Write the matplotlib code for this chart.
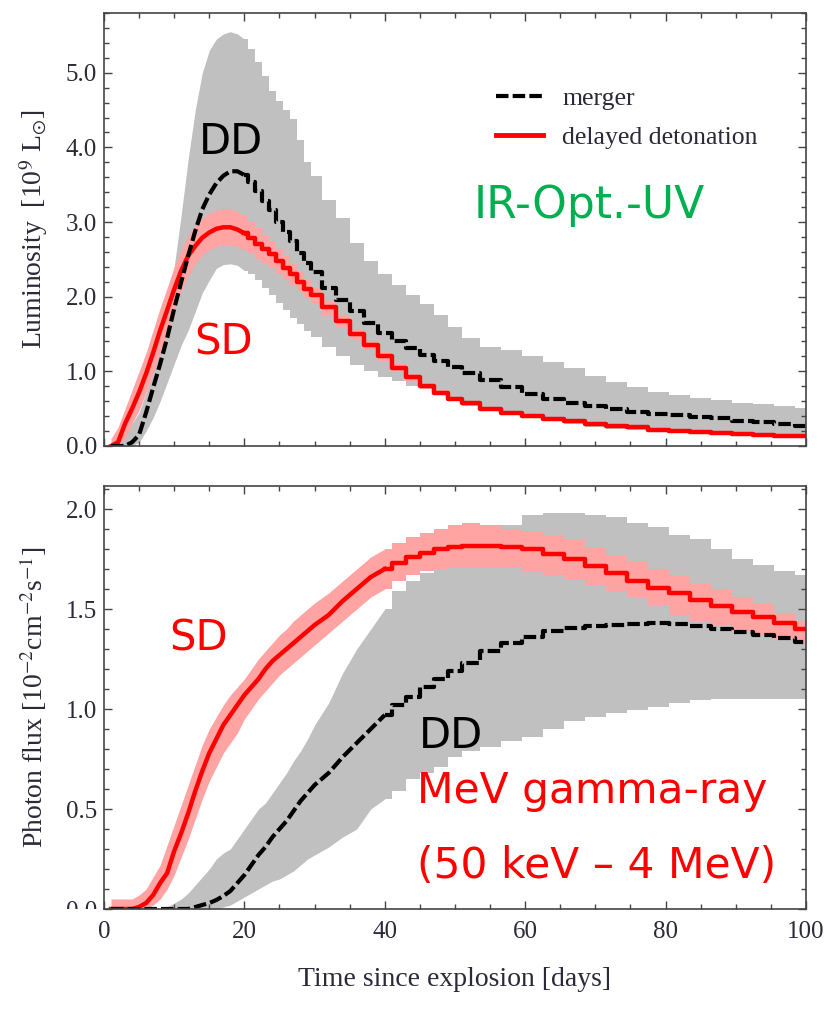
import matplotlib
matplotlib.use('Agg')
import matplotlib.pyplot as plt
from matplotlib.ticker import MultipleLocator
from matplotlib.transforms import Bbox, TransformedBbox
from matplotlib.lines import Line2D

# ---------------- data ----------------
TIME = [1, 2, 3, 4, 5, 6, 7, 8, 9, 10, 11, 12, 13, 14, 15, 16, 17, 18, 19, 20,
        21, 22, 23, 24, 25, 26, 27, 28, 29, 30,
        32, 34, 36, 38, 40, 42, 44, 46, 48, 50, 52,
        55, 58, 61, 64, 67, 70, 73, 76, 79, 82, 85, 88, 91, 94, 97, 100]

# Top panel: luminosity [1e9 Lsun]
LUM_MERGER = [0, 0, 0, 0.05, 0.15, 0.45, 0.78, 1.10, 1.45, 1.84, 2.20, 2.55, 2.88, 3.17, 3.37, 3.52, 3.62, 3.68, 3.68, 3.63,
              3.53, 3.41, 3.28, 3.16, 3.00, 2.87, 2.75, 2.58, 2.45, 2.33,
              2.12, 1.95, 1.81, 1.65, 1.52, 1.41, 1.31, 1.22, 1.14, 1.06, 0.98,
              0.89, 0.79, 0.70, 0.63, 0.57, 0.53, 0.49, 0.46, 0.43, 0.41, 0.39, 0.37, 0.34, 0.32, 0.30, 0.27]
LUM_DDT = [0, 0.05, 0.30, 0.50, 0.72, 0.97, 1.25, 1.55, 1.82, 2.10, 2.35, 2.55, 2.68, 2.79, 2.86, 2.91, 2.93, 2.93, 2.90, 2.85,
           2.79, 2.71, 2.64, 2.57, 2.48, 2.39, 2.30, 2.20, 2.10, 2.02,
           1.86, 1.68, 1.50, 1.35, 1.20, 1.05, 0.92, 0.81, 0.71, 0.63, 0.57,
           0.49, 0.44, 0.40, 0.36, 0.33, 0.30, 0.27, 0.25, 0.22, 0.20, 0.19, 0.17, 0.16, 0.15, 0.14, 0.13]
LUM_DDT_HI = [0.10, 0.25, 0.50, 0.75, 1.00, 1.25, 1.55, 1.85, 2.12, 2.40, 2.62, 2.82, 2.95, 3.05, 3.12, 3.16, 3.18, 3.18, 3.14, 3.08,
              3.00, 2.92, 2.83, 2.74, 2.64, 2.54, 2.44, 2.33, 2.22, 2.12,
              1.94, 1.75, 1.57, 1.41, 1.26, 1.10, 0.97, 0.85, 0.75, 0.66, 0.60,
              0.52, 0.47, 0.43, 0.39, 0.36, 0.32, 0.29, 0.27, 0.24, 0.22, 0.21, 0.19, 0.18, 0.17, 0.16, 0.15]
LUM_DDT_LO = [0, 0, 0.10, 0.30, 0.48, 0.72, 0.98, 1.25, 1.52, 1.80, 2.07, 2.28, 2.44, 2.56, 2.63, 2.67, 2.70, 2.70, 2.67, 2.63,
              2.58, 2.50, 2.44, 2.38, 2.30, 2.22, 2.14, 2.06, 1.98, 1.90,
              1.76, 1.60, 1.43, 1.29, 1.14, 1.00, 0.87, 0.77, 0.68, 0.60, 0.54,
              0.47, 0.42, 0.38, 0.34, 0.31, 0.28, 0.25, 0.23, 0.20, 0.18, 0.17, 0.15, 0.14, 0.13, 0.12, 0.11]
LUM_MODELS_HI = [0, 0.05, 0.15, 0.30, 0.45, 0.72, 1.00, 1.40, 1.81, 2.40, 3.10, 3.85, 4.50, 5.00, 5.30, 5.45, 5.52, 5.55, 5.52, 5.45,
                 5.32, 5.15, 4.95, 4.75, 4.62, 4.50, 4.38, 4.10, 3.80, 3.62,
                 3.30, 3.05, 2.72, 2.48, 2.30, 2.15, 2.02, 1.90, 1.75, 1.60, 1.45,
                 1.32, 1.28, 1.20, 1.12, 1.04, 0.94, 0.86, 0.79, 0.73, 0.68, 0.64, 0.61, 0.58, 0.56, 0.53, 0.51]
LUM_MODELS_LO = [0, 0, 0, 0, 0.05, 0.20, 0.38, 0.60, 0.85, 1.10, 1.35, 1.55, 1.80, 2.05, 2.22, 2.38, 2.43, 2.44, 2.42, 2.35,
                 2.30, 2.22, 2.12, 2.02, 1.92, 1.82, 1.72, 1.63, 1.54, 1.46,
                 1.33, 1.20, 1.09, 1.00, 0.93, 0.87, 0.81, 0.76, 0.70, 0.65, 0.60,
                 0.51, 0.44, 0.38, 0.33, 0.29, 0.26, 0.23, 0.21, 0.19, 0.17, 0.16, 0.15, 0.14, 0.13, 0.12, 0.11]

# Bottom panel: photon flux [1e-2 cm^-2 s^-1]
FLUX_MERGER = [0, 0, 0, 0, 0, 0, 0, 0, 0, 0, 0, 0, 0.01, 0.02, 0.03, 0.045, 0.065, 0.09, 0.13, 0.17,
               0.22, 0.27, 0.31, 0.36, 0.40, 0.44, 0.49, 0.54, 0.58, 0.62,
               0.68, 0.76, 0.83, 0.90, 0.97, 1.02, 1.06, 1.11, 1.15, 1.19, 1.23,
               1.29, 1.33, 1.36, 1.39, 1.405, 1.415, 1.42, 1.425, 1.43, 1.425, 1.415, 1.40, 1.385, 1.37, 1.355, 1.335]
FLUX_DDT = [0, 0, 0, 0, 0.01, 0.03, 0.07, 0.13, 0.18, 0.29, 0.38, 0.48, 0.59, 0.69, 0.78, 0.85, 0.92, 0.97, 1.02, 1.07,
            1.11, 1.15, 1.20, 1.24, 1.27, 1.30, 1.33, 1.36, 1.39, 1.42,
            1.47, 1.54, 1.60, 1.66, 1.70, 1.73, 1.76, 1.78, 1.80, 1.81, 1.815,
            1.815, 1.81, 1.80, 1.775, 1.75, 1.715, 1.68, 1.64, 1.605, 1.58, 1.545, 1.515, 1.485, 1.46, 1.43, 1.40]
FLUX_DDT_HI = [0.05, 0.05, 0.05, 0.05, 0.07, 0.10, 0.16, 0.22, 0.32, 0.42, 0.52, 0.62, 0.72, 0.82, 0.90, 0.96, 1.02, 1.07, 1.11, 1.15,
               1.20, 1.25, 1.29, 1.33, 1.37, 1.40, 1.44, 1.47, 1.50, 1.53,
               1.58, 1.64, 1.70, 1.76, 1.80, 1.83, 1.86, 1.88, 1.90, 1.92, 1.93,
               1.92, 1.90, 1.89, 1.87, 1.85, 1.81, 1.77, 1.74, 1.70, 1.67, 1.63, 1.60, 1.56, 1.53, 1.48, 1.44]
FLUX_DDT_LO = [0, 0, 0, 0, 0, 0, 0.02, 0.05, 0.10, 0.17, 0.26, 0.35, 0.45, 0.55, 0.64, 0.71, 0.78, 0.83, 0.88, 0.95,
               1.00, 1.05, 1.09, 1.13, 1.17, 1.20, 1.23, 1.26, 1.29, 1.32,
               1.38, 1.44, 1.50, 1.56, 1.60, 1.64, 1.67, 1.69, 1.70, 1.71, 1.71,
               1.71, 1.71, 1.69, 1.67, 1.65, 1.62, 1.59, 1.56, 1.52, 1.47, 1.44, 1.42, 1.39, 1.37, 1.35, 1.33]
FLUX_MODELS_HI = [0, 0, 0, 0, 0, 0, 0, 0, 0.01, 0.03, 0.05, 0.08, 0.12, 0.16, 0.20, 0.25, 0.28, 0.30, 0.35, 0.40,
                  0.45, 0.50, 0.53, 0.58, 0.63, 0.68, 0.74, 0.79, 0.85, 0.92,
                  1.03, 1.18, 1.30, 1.40, 1.50, 1.59, 1.64, 1.68, 1.71, 1.73, 1.78,
                  1.85, 1.92, 1.97, 1.98, 1.98, 1.97, 1.96, 1.93, 1.91, 1.87, 1.85, 1.80, 1.75, 1.72, 1.69, 1.67]
FLUX_MODELS_LO = [0, 0, 0, 0, 0, 0, 0, 0, 0, 0, 0, 0, 0, 0, 0, 0, 0.01, 0.02, 0.04, 0.06,
                  0.08, 0.10, 0.12, 0.14, 0.15, 0.17, 0.19, 0.22, 0.25, 0.27,
                  0.31, 0.36, 0.40, 0.50, 0.55, 0.59, 0.65, 0.68, 0.71, 0.76, 0.79,
                  0.81, 0.84, 0.86, 0.90, 0.94, 0.96, 0.98, 0.995, 1.01, 1.03, 1.045, 1.05, 1.05, 1.05, 1.05, 1.05]

X_TICKS = [0, 20, 40, 60, 80, 100]
LUM_TICKS = [0.0, 1.0, 2.0, 3.0, 4.0, 5.0]
FLUX_TICKS = [0.0, 0.5, 1.0, 1.5, 2.0]

# ---------------- style ----------------
plt.rcParams['font.family'] = ['Liberation Serif', 'DejaVu Serif']
plt.rcParams['mathtext.fontset'] = 'stix'
TXT = '#2a2a38'
GRAY = '#c0c0c0'
PINK = '#ffa3a3'
RED = '#ff0000'
GREEN = '#00b050'
SANS = ['DejaVu Sans']
DASH = (0, (3, 1))

W, H = 828, 1009
fig = plt.figure(figsize=(W / 100, H / 100), dpi=100)
ax1 = fig.add_axes([104 / W, 1 - 446 / H, 702 / W, 433 / H])
ax2 = fig.add_axes([104 / W, 1 - 909 / H, 702 / W, 423 / H])

# time bins are fine early (curves look smooth) and coarser later (visible steps)
K_TOP = TIME.index(20)
K_BOT = TIME.index(40)


def band(ax, k, lo, hi, color):
    ax.fill_between(TIME[:k + 1], lo[:k + 1], hi[:k + 1], color=color, lw=0)
    ax.fill_between(TIME[k:], lo[k:], hi[k:], step='mid', color=color, lw=0)


def curve(ax, k, y, color, lw, ls='-'):
    ax.plot(TIME[:k + 1], y[:k + 1], color=color, lw=lw, linestyle=ls)
    ax.step(TIME[k:], y[k:], where='mid', color=color, lw=lw, linestyle=ls)


def style_axes(ax, yticks, ymin, ymax, yminor):
    ax.set_xlim(0, 100)
    ax.set_ylim(ymin, ymax)
    ax.set_xticks(X_TICKS)
    ax.xaxis.set_minor_locator(MultipleLocator(5))
    ax.set_yticks(yticks)
    ax.yaxis.set_minor_locator(MultipleLocator(yminor))
    ax.tick_params(which='both', direction='in', top=True, right=True,
                   colors='#444444', labelcolor=TXT, labelsize=18, width=1.0)
    ax.tick_params(which='major', length=6)
    ax.tick_params(which='minor', length=3.5)
    ax.tick_params(axis='y', pad=5)
    ax.tick_params(axis='x', pad=9)
    for s in ax.spines.values():
        s.set_linewidth(1.2)
        s.set_color('#444444')


# ---- top panel ----
band(ax1, K_TOP, LUM_MODELS_LO, LUM_MODELS_HI, GRAY)
band(ax1, K_TOP, LUM_DDT_LO, LUM_DDT_HI, PINK)
curve(ax1, K_TOP, LUM_DDT, RED, 3.2)
curve(ax1, K_TOP, LUM_MERGER, 'black', 3.0, DASH)
style_axes(ax1, LUM_TICKS, 0, 5.8, 0.2)
ax1.set_yticklabels(['%.1f' % v for v in LUM_TICKS])
ax1.tick_params(axis='x', labelbottom=False)
ax1.set_ylabel(r'Luminosity  [10$^{9}$ L$_{\odot}$]', fontsize=20, color=TXT)
ax1.yaxis.set_label_coords(-0.077, 0.5)

handles = [Line2D([], [], color='black', lw=3.0, linestyle=DASH),
           Line2D([], [], color=RED, lw=3.5)]
leg = ax1.legend(handles, ['merger', 'delayed detonation'], loc='upper left',
                 bbox_to_anchor=(0.5584, 0.830), frameon=False, fontsize=18.5,
                 handlelength=1.83, handletextpad=0.74, labelspacing=0.63,
                 borderpad=0, borderaxespad=0)
for t in leg.get_texts():
    t.set_color(TXT)

ax1.text(18.1, 3.91, 'DD', fontsize=30, family=SANS, color='black', ha='center', va='baseline')
ax1.text(17.0, 1.23, 'SD', fontsize=30, family=SANS, color=RED, ha='center', va='baseline')
ax1.text(69.1, 3.06, 'IR-Opt.-UV', fontsize=31.7, family=SANS, color=GREEN, ha='center', va='baseline')

# ---- bottom panel ----
band(ax2, K_BOT, FLUX_MODELS_LO, FLUX_MODELS_HI, GRAY)
band(ax2, K_BOT, FLUX_DDT_LO, FLUX_DDT_HI, PINK)
curve(ax2, K_BOT, FLUX_DDT, RED, 3.2)
curve(ax2, K_BOT, FLUX_MERGER, 'black', 3.0, DASH)
style_axes(ax2, FLUX_TICKS, 0, 2.115, 0.1)
ax2.set_yticklabels(['%.1f' % v for v in FLUX_TICKS])
ax2.set_xticklabels([str(v) for v in X_TICKS])
ax2.set_ylabel(r'Photon flux [10$^{-2}$cm$^{-2}$s$^{-1}$]', fontsize=20, color=TXT)
ax2.yaxis.set_label_coords(-0.078, 0.5)
ax2.set_xlabel('Time since explosion [days]', fontsize=20, color=TXT, labelpad=17)

ax2.text(13.5, 1.295, 'SD', fontsize=30, family=SANS, color=RED, ha='center', va='baseline')
ax2.text(49.4, 0.805, 'DD', fontsize=30, family=SANS, color='black', ha='center', va='baseline')
ax2.text(44.6, 0.53, 'MeV gamma-ray', fontsize=30.5, family=SANS, color=RED, ha='left', va='baseline')
ax2.text(44.6, 0.155, '(50 keV \u2013 4 MeV)', fontsize=30.5, family=SANS, color=RED, ha='left', va='baseline')

# the "0.0" label of the lower panel is cut at the axis line in the original
clip = TransformedBbox(Bbox([[0, 1 - 909 / H], [1, 1]]), fig.transFigure)
lbl0 = ax2.yaxis.get_major_ticks()[0].label1
lbl0.set_clip_box(clip)
lbl0.set_clip_on(True)

fig.savefig('out.png', dpi=100)
